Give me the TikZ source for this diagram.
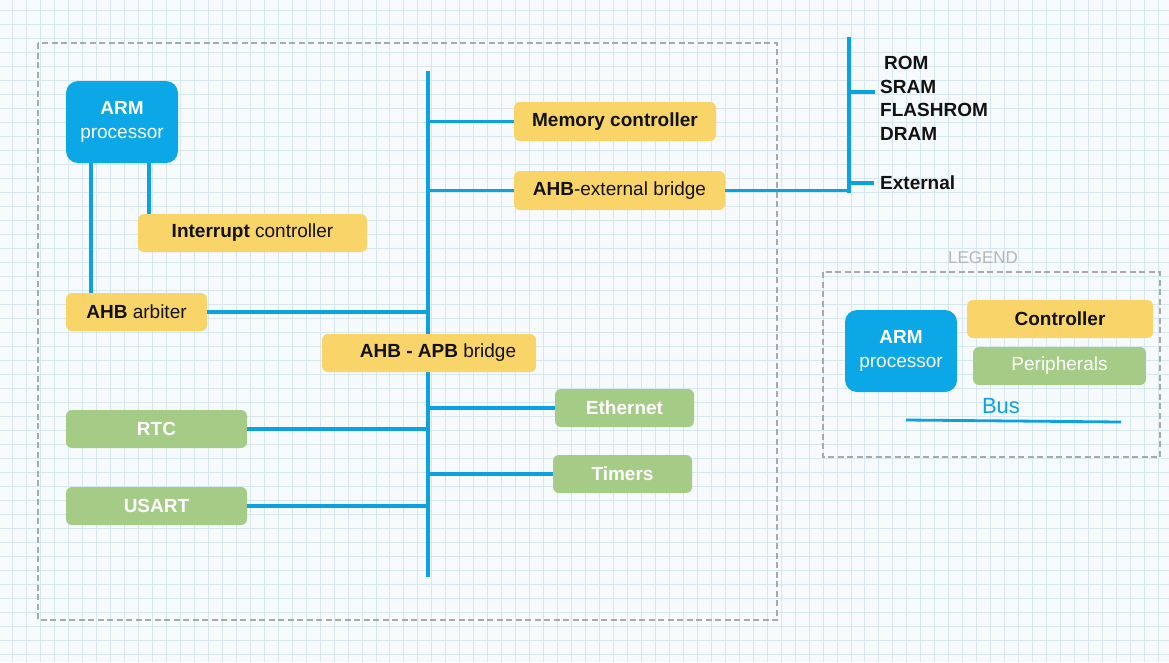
\documentclass[tikz,border=0pt]{standalone}
\usepackage{fontspec}
\setmainfont{Liberation Sans}
\definecolor{bg}{HTML}{F6FAFC}
\definecolor{gridc}{HTML}{D6E7EE}
\definecolor{armblue}{HTML}{0BA7E6}
\definecolor{busblue}{HTML}{0CA2E2}
\definecolor{ctrly}{HTML}{F9D468}
\definecolor{perig}{HTML}{A4CC86}
\definecolor{dashg}{HTML}{A9A9A9}
\definecolor{txt}{HTML}{121212}
\tikzset{
  box/.style={rounded corners=6pt, inner sep=0pt, font=\fontsize{19}{22}\selectfont},
  armbox/.style={box, fill=armblue, text=white, rounded corners=12pt, minimum width=112pt, minimum height=82pt, align=center},
  ctrlbox/.style={box, fill=ctrly, text=txt},
  peribox/.style={box, fill=perig, text=white},
  bus/.style={draw=busblue, line width=3.4pt},
  frame/.style={draw=dashg, line width=1.4pt, dash pattern=on 6pt off 3.5pt},
  lbl/.style={anchor=west, inner sep=0pt, text=txt, font=\fontsize{19}{22}\selectfont\bfseries}
}
\begin{document}
\begin{tikzpicture}[x=1pt,y=-1pt]
\useasboundingbox (0,0) rectangle (1169,662);
\fill[bg] (0,0) rectangle (1169,662);
\foreach \i in {0,...,84} {\draw[gridc, line width=0.8pt] ({12.7+13.97*\i},0) -- ({12.7+13.97*\i},662);}
\foreach \j in {0,...,47} {\draw[gridc, line width=0.8pt] (0,{10.7+14.0*\j}) -- (1169,{10.7+14.0*\j});}

% frames
\draw[frame] (38,43) rectangle (777,620);
\draw[frame] (823,272) rectangle (1160,457);

% bus
\coordinate (busT) at (428,71);
\coordinate (busB) at (428,577);
\draw[bus] (busT) -- (busB);

% nodes
\node[armbox] (arm) at (122,122) {\textbf{ARM}\\[2pt]processor};
\node[ctrlbox, minimum width=229pt, minimum height=38pt] (intc) at (252.5,233) {\textbf{Interrupt} controller};
\node[ctrlbox, minimum width=141pt, minimum height=38pt] (arb) at (136.5,312) {\textbf{AHB} arbiter};
\node[ctrlbox, minimum width=202pt, minimum height=39pt] (mem) at (615,121.5) {\textbf{Memory controller}\hspace{10pt}};
\node[ctrlbox, minimum width=211pt, minimum height=39pt] (ext) at (619.5,190.5) {\textbf{AHB}-external bridge};
\node[peribox, minimum width=139pt, minimum height=38pt] (eth) at (624.5,408) {\textbf{Ethernet}\hspace{12pt}};
\node[peribox, minimum width=139pt, minimum height=38pt] (tim) at (622.5,474) {\textbf{Timers}\hspace{12pt}};
\node[peribox, minimum width=181pt, minimum height=38pt] (rtc) at (156.5,429) {\textbf{RTC}};
\node[peribox, minimum width=181pt, minimum height=38pt] (usart) at (156.5,506) {\textbf{USART}};

% connectors from ARM
\draw[bus] (arm.south -| 91,0) -- (arb.north -| 91,0);
\draw[bus] (arm.south -| 149,0) -- (intc.north -| 149,0);

% branches to bus
\draw[bus] (arb.east) -- (arb.east -| busT);
\draw[bus] (mem.west) -- (mem.west -| busT);
\draw[bus] (ext.west) -- (ext.west -| busT);
\draw[bus] (eth.west) -- (eth.west -| busT);
\draw[bus] (tim.west) -- (tim.west -| busT);
\draw[bus] (rtc.east) -- (rtc.east -| busT);
\draw[bus] (usart.east) -- (usart.east -| busT);
\node[ctrlbox, minimum width=214pt, minimum height=38pt] (apb) at (429,353) {\hspace{18pt}\textbf{AHB - APB} bridge};

% external memory bus
\coordinate (xT) at (849,37);
\coordinate (xB) at (849,193);
\draw[bus] (ext.east) -- (ext.east -| xT) -- (xB);
\draw[bus] (xT) -- (xB);
\node[lbl] (rom) at (884,63) {ROM};
\node[lbl] (sram) at (880,87) {SRAM};
\node[lbl] (flash) at (880,110) {FLASHROM};
\node[lbl] (dram) at (880,134) {DRAM};
\node[lbl] (extl) at (880,183) {External};
\coordinate (memtap) at (875,92);
\draw[bus] (xT |- memtap) -- (memtap);
\draw[bus] (xT |- extl.west) -- ([xshift=-6pt]extl.west);

% legend
\node[text=dashg!85, font=\fontsize{17}{20}\selectfont] (legt) at (983,258) {LEGEND};
\node[armbox] (larm) at (901,351) {\textbf{ARM}\\[2pt]processor};
\node[ctrlbox, minimum width=186pt, minimum height=38pt] (lctrl) at (1060,319) {\textbf{Controller}};
\node[peribox, minimum width=173pt, minimum height=38pt] (lperi) at (1059.5,366) {Peripherals};
\node[text=busblue, font=\fontsize{22}{24}\selectfont, inner sep=0pt] (lbus) at (1001,406) {Bus};
\coordinate (lb1) at (906,420);
\coordinate (lb2) at (1121,422);
\draw[busblue, line width=2.8pt] (lb1) -- (lb2);
\end{tikzpicture}
\end{document}
